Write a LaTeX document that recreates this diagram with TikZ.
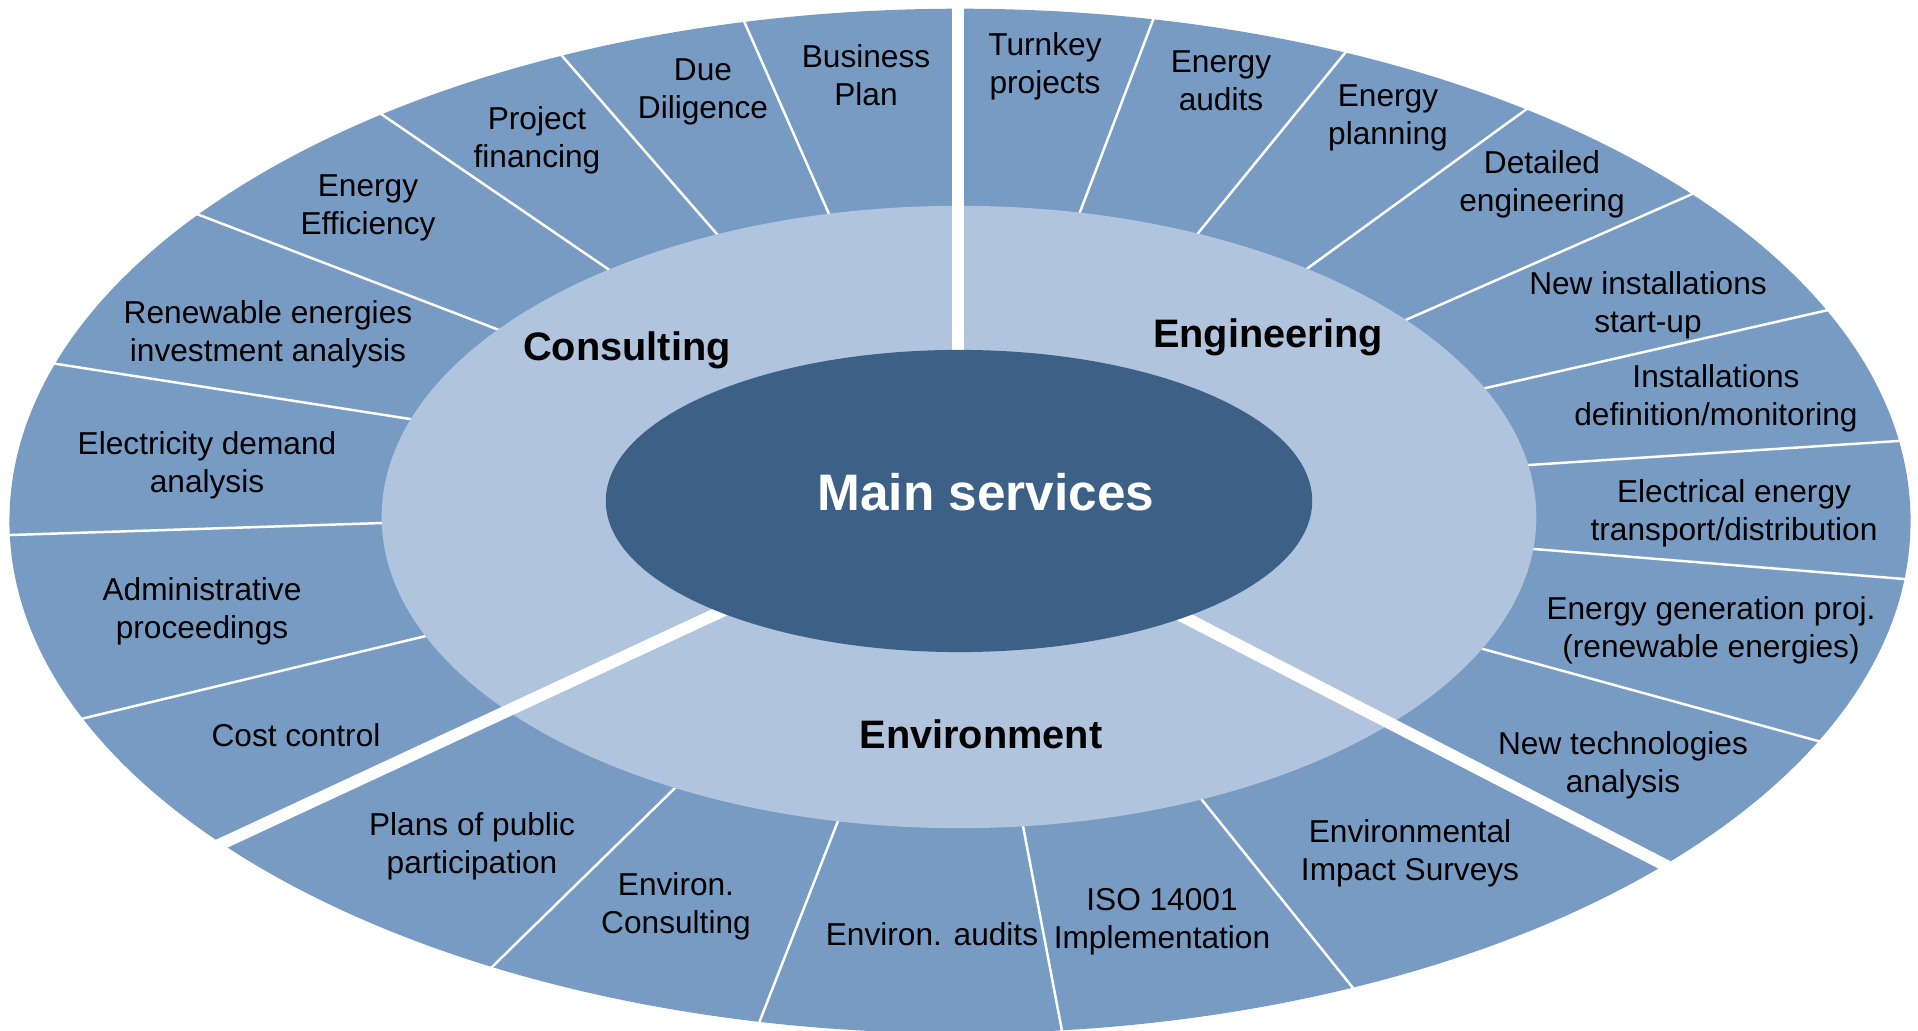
\documentclass[tikz,border=0pt]{standalone}
\usepackage{fontspec}
\setmainfont{Liberation Sans}
\definecolor{ringout}{RGB}{120,155,195}
\definecolor{ringmid}{RGB}{176,196,222}
\definecolor{ringin}{RGB}{61,96,134}
\begin{document}
\begin{tikzpicture}[x=0.01cm,y=-0.01cm,
    sep/.style={white,line width=0.7pt,shorten <=-0.3cm,shorten >=-0.3cm},
    gap/.style={white,line width=0.12cm},
    item/.style={align=center,font=\fontsize{9}{10.8}\selectfont},
    sector/.style={font=\fontsize{11.3}{13.5}\selectfont\bfseries},
    core/.style={text=white,font=\fontsize{14.6}{17}\selectfont\bfseries}]
    \useasboundingbox (0,0) rectangle (1918,1031);
    \fill[ringout] (960,521) ellipse [x radius=9.5cm,y radius=5.12cm];
    \draw[sep] (829,214) -- (747,28);
    \draw[sep] (716,233) -- (563,57);
    \draw[sep] (608,269) -- (384,116);
    \draw[sep] (499,330) -- (202,216);
    \draw[sep] (410,419) -- (57,364);
    \draw[sep] (383,523) -- (11,535);
    \draw[sep] (426,636) -- (85,718);
    \draw[sep] (1080,212) -- (1153,20);
    \draw[sep] (1199,232) -- (1345,53);
    \draw[sep] (1308,268) -- (1524,111);
    \draw[sep] (1408,319) -- (1690,195);
    \draw[sep] (1486,388) -- (1824,311);
    \draw[sep] (1529,465) -- (1898,441);
    \draw[sep] (1534,549) -- (1904,579);
    \draw[sep] (1483,649) -- (1818,741);
    \draw[sep] (675,788) -- (492,967);
    \draw[sep] (838,821) -- (759,1023);
    \draw[sep] (1023,826) -- (1062,1031);
    \draw[sep] (1202,800) -- (1353,988);
    \fill[ringmid] (959,517) ellipse [x radius=5.77cm,y radius=3.11cm];
    \draw[gap] (958,501) -- (958,-20);
    \draw[gap] (959,501) -- (150,877);
    \draw[gap] (959,501) -- (1750,909);
    \fill[ringin] (959,501) ellipse [x radius=3.53cm,y radius=1.51cm];
    \node[core] (main) at (986,492) {Main services};
    \node[sector] (consulting) at (627,350) {Consulting};
    \node[sector] (engineering) at (1268,337) {Engineering};
    \node[sector] (environment) at (981,734) {Environment};
    \node[item] (bplan) at (866,75) {Business\\Plan};
    \node[item] (duedil) at (703,92) {Due\\Diligence};
    \node[item] (projfin) at (537,140) {Project\\financing};
    \node[item] (effic) at (368,208) {Energy\\Efficiency};
    \node[item] (renew) at (268,334) {Renewable energies\\investment analysis};
    \node[item] (demand) at (207,465) {Electricity demand\\analysis};
    \node[item] (admin) at (202,611) {Administrative\\proceedings};
    \node[item] (cost) at (296,735) {Cost control};
    \node[item] (turnkey) at (1045,66) {Turnkey\\projects};
    \node[item] (eaudit) at (1221,81) {Energy\\audits};
    \node[item] (eplan) at (1388,118) {Energy\\planning};
    \node[item] (detail) at (1542,184) {Detailed\\engineering};
    \node[item] (startup) at (1648,305) {New installations\\start-up};
    \node[item] (monitor) at (1716,398) {Installations\\definition/monitoring};
    \node[item] (transport) at (1734,513) {Electrical energy\\transport/distribution};
    \node[item] (generation) at (1711,630) {Energy generation proj.\\(renewable energies)};
    \node[item] (newtech) at (1623,765) {New technologies\\analysis};
    \node[item] (public) at (472,846) {Plans of public\\participation};
    \node[item] (envcons) at (676,906) {Environ.\\Consulting};
    \node[item] (envaudit) at (932,934) {Environ. audits};
    \node[item] (iso) at (1162,922) {ISO 14001\\Implementation};
    \node[item] (impact) at (1410,853) {Environmental\\Impact Surveys};
\end{tikzpicture}
\end{document}
